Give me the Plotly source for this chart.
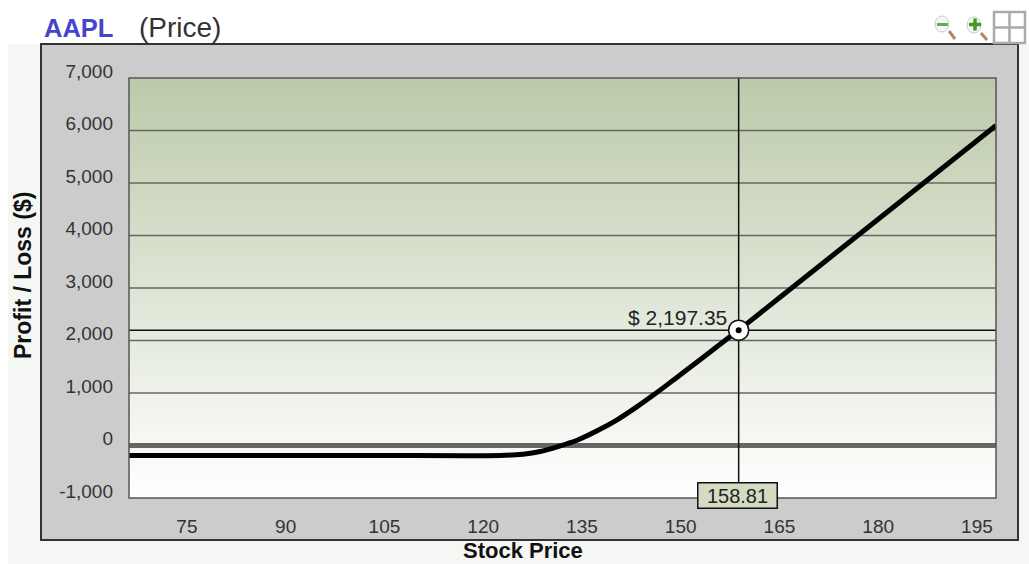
import plotly.graph_objects as go

stock_price = [65.9, 90, 105, 122.57, 126.06, 128.65, 131.23, 134.27, 137.31, 140.35, 143.39, 146.43, 149.47,
               152.5, 155.55, 158.81, 165, 180, 197.9]
profit_loss = [-190, -190, -190, -190, -165, -115, -25, 100, 280, 490, 740, 1013, 1302,
               1590, 1885, 2197.35, 2815, 4310, 6095]
x_ticks = [75, 90, 105, 120, 135, 150, 165, 180, 195]
y_ticks = [-1000, 0, 1000, 2000, 3000, 4000, 5000, 6000, 7000]
y_tick_labels = ["-1,000", "0", "1,000", "2,000", "3,000", "4,000", "5,000", "6,000", "7,000"]
cross_x = 158.81
cross_y = 2197.35
x_range = [66.2, 197.9]
y_range = [-1000, 7000]

W, H = 1029, 564
L, R, T, B = 129, 996, 78, 498
FONT = "Liberation Sans"


def px(x):
    return (x - L) / (R - L)


def py(y):
    return (B - y) / (B - T)


fig = go.Figure()

fig.add_trace(go.Heatmap(
    x=x_range, y=[y_range[0] + i * 400 for i in range(21)],
    z=[[i, i] for i in range(21)],
    colorscale=[[0, "#ffffff"], [1, "#bccaaa"]], showscale=False, hoverinfo="skip", zsmooth="best",
))
for v in y_ticks[1:-1]:
    fig.add_trace(go.Scatter(x=x_range, y=[v, v], mode="lines", line=dict(color="#666666", width=1.5),
                             hoverinfo="skip", showlegend=False))
fig.add_trace(go.Scatter(x=x_range, y=[0, 0], mode="lines", line=dict(color="#666666", width=5),
                         hoverinfo="skip", showlegend=False))
fig.add_trace(go.Scatter(x=x_range, y=[cross_y, cross_y], mode="lines", line=dict(color="#111111", width=1.5),
                         hoverinfo="skip", showlegend=False))
fig.add_trace(go.Scatter(x=[cross_x, cross_x], y=y_range, mode="lines", line=dict(color="#111111", width=1.5),
                         hoverinfo="skip", showlegend=False))
fig.add_trace(go.Scatter(x=stock_price, y=profit_loss, mode="lines",
                         line=dict(color="#000000", width=5, shape="spline", smoothing=0.6),
                         cliponaxis=False, showlegend=False))
fig.add_trace(go.Scatter(x=[cross_x], y=[cross_y], mode="markers",
                         marker=dict(size=20, color="#ffffff", line=dict(color="#111111", width=1.5)),
                         showlegend=False))
fig.add_trace(go.Scatter(x=[cross_x], y=[cross_y], mode="markers",
                         marker=dict(size=6, color="#000000"), showlegend=False))


def rect(x0, y0, x1, y1, **kw):
    return dict(type="rect", xref="paper", yref="paper", x0=px(x0), x1=px(x1), y0=py(y0), y1=py(y1), **kw)


def seg(x0, y0, x1, y1, color, width):
    return dict(type="line", xref="paper", yref="paper", x0=px(x0), x1=px(x1), y0=py(y0), y1=py(y1),
                line=dict(color=color, width=width))


def circle(x0, y0, x1, y1, **kw):
    return dict(type="circle", xref="paper", yref="paper", x0=px(x0), x1=px(x1), y0=py(y0), y1=py(y1), **kw)


shapes = [
    rect(8, 44, 1029, 564, fillcolor="#f5f7f4", line_width=0, layer="below"),
    rect(41, 44, 1018, 540, fillcolor="#cccccc", line=dict(color="#333333", width=2), layer="below"),
    rect(L, T, R, B, line=dict(color="#555555", width=1.5)),
    # zoom-out icon
    circle(935, 16, 949, 32, fillcolor="#f4f8f4", line=dict(color="#c4d0cc", width=1)),
    seg(937, 24.5, 948, 24.5, "#6aa84f", 3),
    seg(949, 31, 955, 39, "#b08a68", 3),
    # zoom-in icon
    circle(967, 17, 981, 33, fillcolor="#f4f8f4", line=dict(color="#c4d0cc", width=1)),
    seg(969, 24.5, 981, 24.5, "#3f9a20", 3.5),
    seg(975, 18.5, 975, 30.5, "#3f9a20", 3.5),
    seg(981, 33, 987, 40, "#b08a68", 3),
    # grid icon
    rect(994, 12, 1025, 43, fillcolor="#ffffff", line=dict(color="#aaaaaa", width=2.5)),
    seg(1009.5, 12, 1009.5, 43, "#aaaaaa", 2.5),
    seg(994, 27.5, 1025, 27.5, "#aaaaaa", 2.5),
]


def note(text, x, y, size=15, color="#333333", xanchor="center", yanchor="middle", **kw):
    return dict(text=text, xref="paper", yref="paper", x=px(x), y=py(y), showarrow=False,
                xanchor=xanchor, yanchor=yanchor, font=dict(family=FONT, size=size, color=color), **kw)


annotations = [
    note("<b>AAPL</b>", 42, 28, size=25.5, color="#4444cc", xanchor="left"),
    note("(Price)", 137, 28, size=28, color="#333333", xanchor="left"),
    note("$ %s" % f"{cross_y:,.2f}", 729, 317, size=21, color="#222222", xanchor="right"),
    note(f"{cross_x:.2f}", 737, 495, size=20, color="#222222", bgcolor="#d3dbc3", bordercolor="#111111",
         borderwidth=1.5, borderpad=1, width=76),
    note("<b>Stock Price</b>", 523, 550, size=22, color="#111111", borderpad=0),
    note("<b>Profit / Loss ($)</b>", 23, 276, size=23, color="#111111", textangle=-90),
]

TICK_FONT = dict(family=FONT, size=19, color="#333333")
fig.update_layout(
    width=W, height=H, margin=dict(l=L, r=W - R, t=T, b=H - B),
    paper_bgcolor="#ffffff", plot_bgcolor="#ffffff", showlegend=False,
    shapes=shapes, annotations=annotations,
    xaxis=dict(range=x_range, tickvals=x_ticks, showgrid=False, zeroline=False, ticks="",
               ticklabelstandoff=15, tickfont=TICK_FONT),
    yaxis=dict(range=y_range, tickvals=y_ticks, ticktext=y_tick_labels, showgrid=False, zeroline=False,
               ticks="", ticklabelstandoff=15, ticklabelshift=-7, tickfont=TICK_FONT),
)

fig.write_html("out.html", post_script="document.body.style.margin='0';", config=dict(displayModeBar=False))
